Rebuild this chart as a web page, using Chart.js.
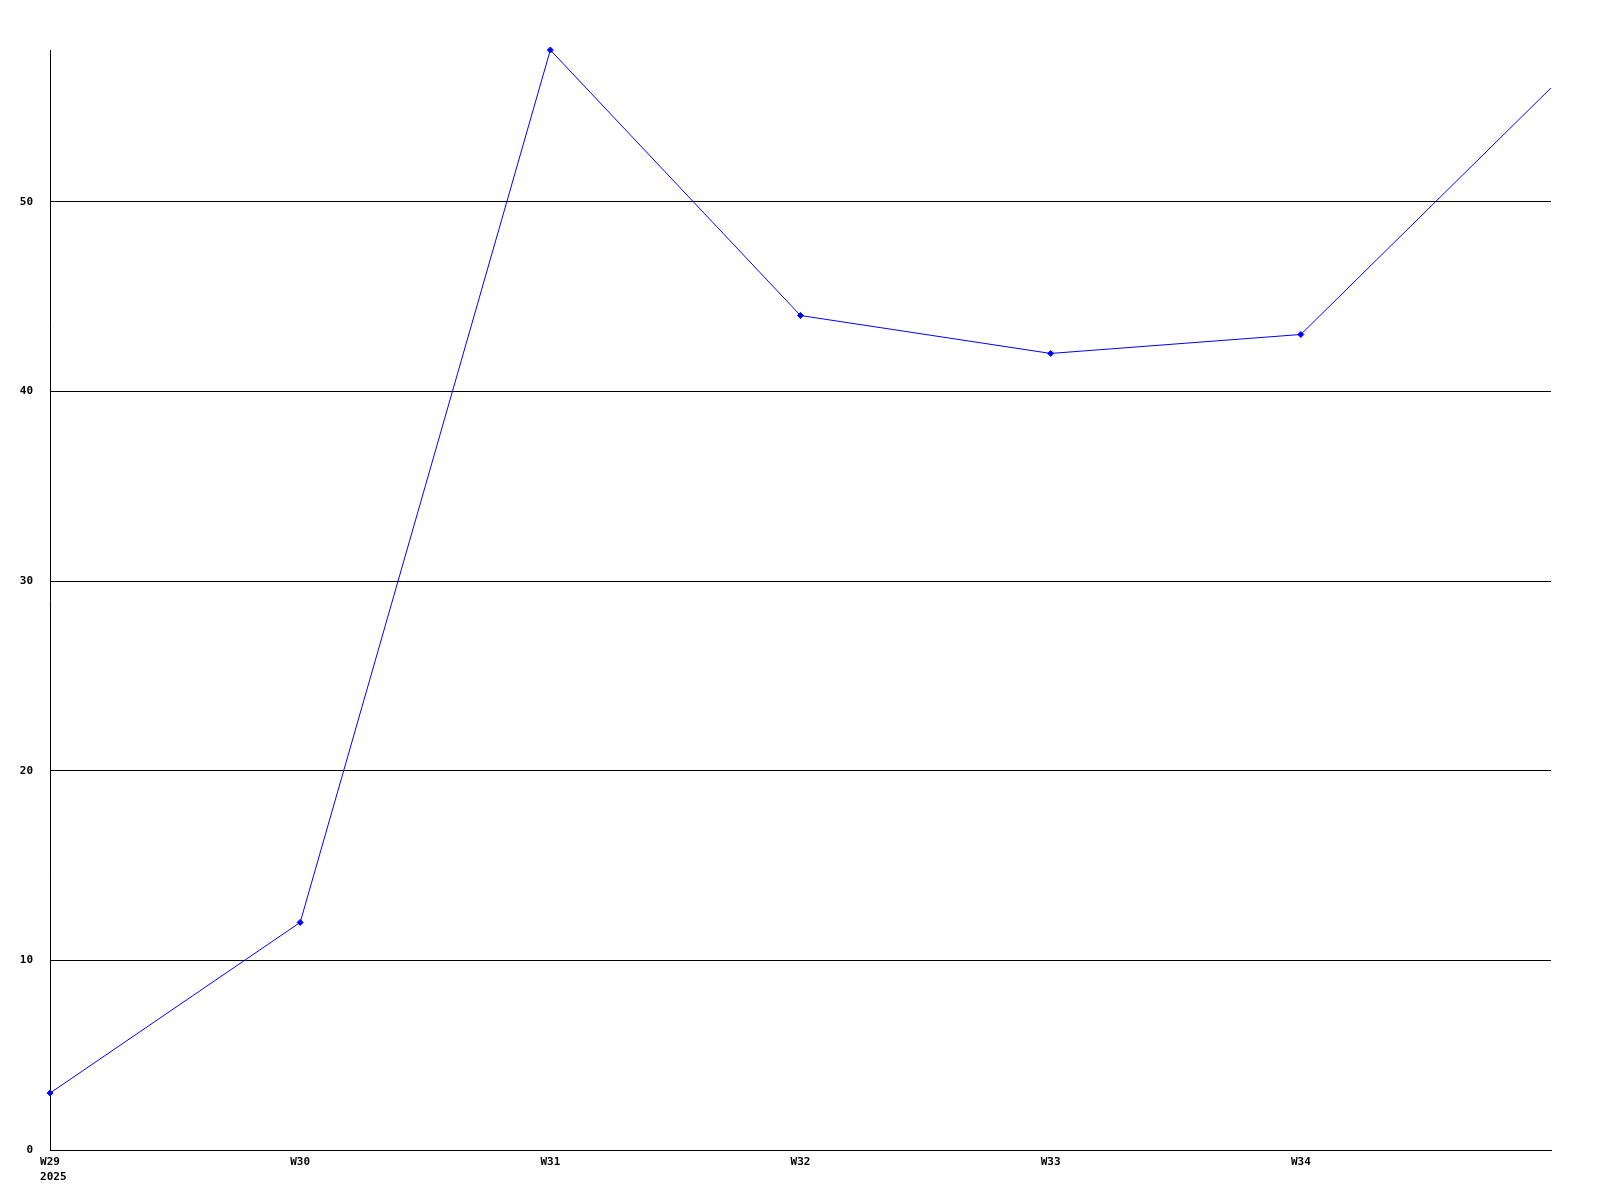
<!DOCTYPE html>
<html>
<head>
<meta charset="utf-8">
<script src="https://cdn.jsdelivr.net/npm/chart.js@4/dist/chart.umd.min.js"></script>
<style>
  html, body { margin: 0; padding: 0; background: #ffffff; }
  canvas { display: block; }
</style>
</head>
<body>
<canvas id="chart" width="1600" height="1200"></canvas>
<script>
// ---- Data ----
const weekLabels = ['W29', 'W30', 'W31', 'W32', 'W33', 'W34', 'W35'];
const yearLabel = '2025';
const seriesValues = [3, 12, 58, 44, 42, 43, 56];
const yTickValues = [0, 10, 20, 30, 40, 50];

const FONT = { family: '"DejaVu Sans Mono", "Liberation Mono", monospace', size: 11, weight: 'bold', lineHeight: '15px' };

const yearPlugin = {
  id: 'yearLabel',
  afterDraw(chart) {
    const x = chart.scales.x;
    const ctx = chart.ctx;
    ctx.save();
    ctx.font = 'bold 11px "DejaVu Sans Mono", "Liberation Mono", monospace';
    ctx.fillStyle = '#000000';
    ctx.textBaseline = 'top';
    ctx.textAlign = 'left';
    const px = x.getPixelForValue(0);
    const w = ctx.measureText(weekLabels[0]).width;
    ctx.fillText(yearLabel, px - w / 2, x.top + 22);
    ctx.restore();
  }
};

new Chart(document.getElementById('chart'), {
  type: 'line',
  data: {
    labels: weekLabels,
    datasets: [{
      data: seriesValues,
      borderColor: '#0000ff',
      backgroundColor: '#0000ff',
      borderWidth: 1,
      pointStyle: 'rectRot',
      pointRadius: seriesValues.map((v, i) => i === seriesValues.length - 1 ? 0 : 3),
      pointBorderWidth: 1,
      fill: false,
      tension: 0,
      clip: false
    }]
  },
  options: {
    responsive: false,
    animation: false,
    layout: { padding: { top: 50, right: 49, left: 0, bottom: 0 } },
    plugins: { legend: { display: false }, tooltip: { enabled: false } },
    scales: {
      x: {
        offset: false,
        grid: { display: false, drawTicks: false },
        border: { display: true, color: '#000000', width: 1 },
        ticks: {
          color: '#000000',
          font: FONT,
          padding: 5,
          maxRotation: 0,
          autoSkip: false,
          callback: function (value, index) {
            return index === weekLabels.length - 1 ? '' : weekLabels[index];
          }
        },
        afterFit: s => { s.height = 50; }
      },
      y: {
        min: 0,
        max: 58,
        grid: { color: '#000000', lineWidth: 1, drawTicks: false },
        border: { display: true, color: '#000000', width: 1 },
        afterBuildTicks: s => { s.ticks = yTickValues.map(v => ({ value: v })); },
        ticks: {
          color: '#000000',
          font: FONT,
          padding: 17
        },
        afterFit: s => { s.width = 50; }
      }
    }
  },
  plugins: [yearPlugin]
});
</script>
</body>
</html>
